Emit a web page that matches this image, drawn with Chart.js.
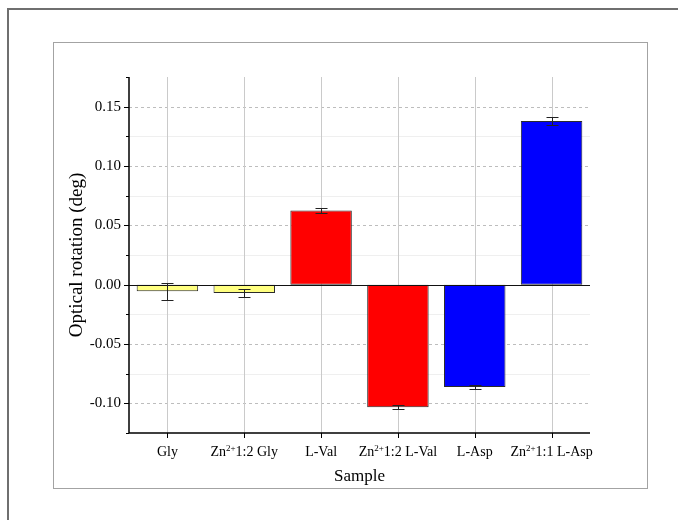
<!DOCTYPE html>
<html>
<head>
<meta charset="utf-8">
<script src="https://cdn.jsdelivr.net/npm/chart.js@4.4.1/dist/chart.umd.min.js"></script>
<style>
  html, body { margin: 0; padding: 0; background: #ffffff; }
  body { width: 678px; height: 520px; position: relative; overflow: hidden; }
  #outer { position: absolute; left: 7px; top: 8px; width: 800px; height: 700px;
           border-top: 2px solid #6f6f6f; border-left: 2px solid #6f6f6f; }
  #inner { position: absolute; left: 53px; top: 42px; width: 593px; height: 445px;
           border: 1px solid #a3a3a3; }
  #wrap { position: absolute; left: 0; top: 0; width: 678px; height: 520px; }
</style>
</head>
<body>
<div id="outer"></div>
<div id="inner"></div>
<div id="wrap"><canvas id="chart" width="678" height="520"></canvas></div>
<script>
// Samples and measured optical rotation (deg) with standard deviations
const categories = ['Gly', 'Zn²⁺1:2 Gly', 'L-Val', 'Zn²⁺1:2 L-Val', 'L-Asp', 'Zn²⁺1:1 L-Asp'];
const rotation = [-0.0055, -0.007, 0.0625, -0.1032, -0.0863, 0.138];
const rotationError = [0.007, 0.003, 0.0017, 0.0014, 0.0014, 0.0037];
const barColors = ['#ffff80', '#ffff80', '#ff0000', '#ff0000', '#0000ff', '#0000ff'];

// Value axis
const yTickValues = [-0.10, -0.05, 0.00, 0.05, 0.10, 0.15];
const yMin = -0.125;
const yMax = 0.175;
const yMinorStep = 0.025;

const SERIF = '"Liberation Serif", "Times New Roman", serif';

function minorValues() {
  const out = [];
  const n = Math.round((yMax - yMin) / yMinorStep);
  for (let k = 0; k <= n; k++) out.push(+(yMin + k * yMinorStep).toFixed(4));
  return out;
}
function isMajor(v) {
  return yTickValues.some(t => Math.abs(t - v) < 1e-9);
}

// Draws a category label, rendering ² and ⁺ as raised small text
function drawRichLabel(ctx, text, cx, baseY) {
  const supMap = { '²': '2', '³': '3', '⁺': '+', '⁻': '-' };
  const parts = [];
  let cur = '', curSup = false;
  for (const ch of text) {
    const sup = ch in supMap;
    if (sup !== curSup && cur) { parts.push({ t: cur, sup: curSup }); cur = ''; }
    curSup = sup;
    cur += sup ? supMap[ch] : ch;
  }
  if (cur) parts.push({ t: cur, sup: curSup });
  const mainFont = '14px ' + SERIF;
  const supFont = '9px ' + SERIF;
  let total = 0;
  parts.forEach(p => {
    ctx.font = p.sup ? supFont : mainFont;
    p.w = ctx.measureText(p.t).width;
    total += p.w;
  });
  let x = cx - total / 2;
  ctx.textAlign = 'left';
  ctx.textBaseline = 'alphabetic';
  parts.forEach(p => {
    ctx.font = p.sup ? supFont : mainFont;
    ctx.fillText(p.t, x, p.sup ? baseY - 5.5 : baseY);
    x += p.w;
  });
}

const decorPlugin = {
  id: 'decor',
  beforeDatasetsDraw(chart) {
    const { ctx, chartArea: a, scales: { x, y } } = chart;
    ctx.save();
    // horizontal grid: faint minor lines, dashed major lines
    minorValues().forEach(v => {
      if (Math.abs(v) < 1e-9) return;
      const py = Math.round(y.getPixelForValue(v)) + 0.5;
      if (py < a.top + 1 || py > a.bottom - 1) return;
      ctx.beginPath();
      if (isMajor(v)) {
        ctx.strokeStyle = '#bdbdbd';
        ctx.setLineDash([3, 3]);
      } else {
        ctx.strokeStyle = '#efefef';
        ctx.setLineDash([]);
      }
      ctx.lineWidth = 1;
      ctx.moveTo(a.left, py);
      ctx.lineTo(a.right, py);
      ctx.stroke();
    });
    ctx.setLineDash([]);
    // vertical grid at each category
    ctx.strokeStyle = '#cacaca';
    ctx.lineWidth = 1;
    categories.forEach((c, i) => {
      const px = Math.round(x.getPixelForValue(i)) + 0.5;
      ctx.beginPath();
      ctx.moveTo(px, a.top);
      ctx.lineTo(px, a.bottom);
      ctx.stroke();
    });
    ctx.restore();
  },
  afterDatasetsDraw(chart) {
    const { ctx, chartArea: a, scales: { x, y } } = chart;
    ctx.save();
    // zero line
    const y0 = Math.round(y.getPixelForValue(0)) + 0.5;
    ctx.strokeStyle = '#111';
    ctx.lineWidth = 1.2;
    ctx.beginPath();
    ctx.moveTo(a.left, y0);
    ctx.lineTo(a.right, y0);
    ctx.stroke();

    // error bars
    ctx.strokeStyle = '#222';
    ctx.lineWidth = 1;
    rotation.forEach((v, i) => {
      const e = rotationError[i];
      const px = Math.round(x.getPixelForValue(i)) + 0.5;
      const yHi = Math.round(y.getPixelForValue(v + e)) + 0.5;
      const yLo = Math.round(y.getPixelForValue(v - e)) + 0.5;
      ctx.beginPath();
      ctx.moveTo(px, yHi); ctx.lineTo(px, yLo);
      ctx.moveTo(px - 6, yHi); ctx.lineTo(px + 6, yHi);
      ctx.moveTo(px - 6, yLo); ctx.lineTo(px + 6, yLo);
      ctx.stroke();
    });

    // axis lines
    ctx.strokeStyle = '#000';
    ctx.lineWidth = 1.5;
    ctx.beginPath();
    ctx.moveTo(a.left, a.top);
    ctx.lineTo(a.left, a.bottom);
    ctx.lineTo(a.right, a.bottom);
    ctx.stroke();

    // y tick marks (major and minor, outward)
    ctx.lineWidth = 1;
    minorValues().forEach(v => {
      const py = Math.round(y.getPixelForValue(v)) + 0.5;
      const len = isMajor(v) ? 5 : 3;
      ctx.beginPath();
      ctx.moveTo(a.left - len, py);
      ctx.lineTo(a.left, py);
      ctx.stroke();
    });
    // x tick marks
    categories.forEach((c, i) => {
      const px = Math.round(x.getPixelForValue(i)) + 0.5;
      ctx.beginPath();
      ctx.moveTo(px, a.bottom);
      ctx.lineTo(px, a.bottom + 5);
      ctx.stroke();
    });

    // category labels
    ctx.fillStyle = '#000';
    categories.forEach((c, i) => {
      drawRichLabel(ctx, c, x.getPixelForValue(i), a.bottom + 23);
    });
    ctx.restore();
  }
};

new Chart(document.getElementById('chart'), {
  type: 'bar',
  data: {
    labels: categories,
    datasets: [{
      label: 'Optical rotation',
      data: rotation,
      backgroundColor: barColors,
      borderColor: '#2a2a2a',
      borderWidth: 1,
      borderSkipped: false,
      barPercentage: 0.8,
      categoryPercentage: 1.0
    }]
  },
  options: {
    responsive: false,
    animation: false,
    devicePixelRatio: 1,
    layout: { padding: { left: 0, right: 88, top: 77, bottom: 33.3 } },
    plugins: { legend: { display: false }, tooltip: { enabled: false } },
    scales: {
      x: {
        type: 'category',
        offset: true,
        grid: { display: false },
        border: { display: false },
        ticks: { display: false },
        title: {
          display: true, text: 'Sample', color: '#000',
          font: { family: SERIF, size: 17 }, padding: { top: 0, bottom: 0 }
        },
        afterFit(s) { s.height = 53.7; }
      },
      y: {
        min: yMin,
        max: yMax,
        grid: { display: false, drawTicks: true, tickLength: 5 },
        border: { display: false },
        afterBuildTicks(s) { s.ticks = yTickValues.map(v => ({ value: v })); },
        ticks: {
          color: '#000',
          padding: 3,
          font: { family: SERIF, size: 15 },
          callback: v => (+v).toFixed(2)
        },
        title: {
          display: true, text: 'Optical rotation (deg)', color: '#000',
          font: { family: SERIF, size: 19 }, padding: { top: 65.6, bottom: 0 }
        },
        afterFit(s) { s.width = 129; }
      }
    }
  },
  plugins: [decorPlugin]
});
</script>
</body>
</html>
